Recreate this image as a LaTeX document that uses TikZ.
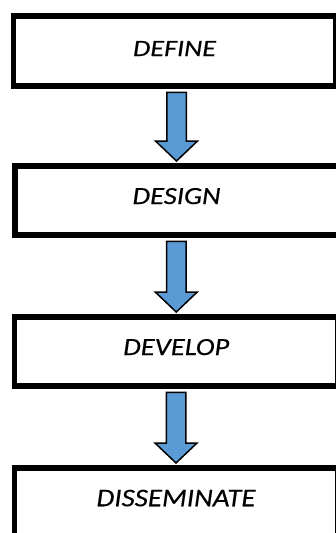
\documentclass[tikz,border=0pt]{standalone}
\usepackage{fontspec}
\setmainfont{Carlito}
\newfontfamily\stagefont[FakeBold=0.3]{Carlito}
\usetikzlibrary{calc}
\definecolor{arrowblue}{HTML}{5B9BD5}
\newcommand{\stagelabel}[3]{\resizebox{#1}{#2}{\stagefont\itshape #3}}
\tikzset{
  stagebox/.style={draw=black, line width=5.5pt, rectangle, inner sep=0pt,
    minimum width=323.5pt, minimum height=69pt, text depth=9pt},
  blockarrow/.style={draw=black, line width=1.5pt, fill=arrowblue, line join=miter,
    to path={let \p1=(\tikztostart), \p2=(\tikztotarget) in
      (\x2-9.75pt,\y1-3.5pt) -- (\x2+9.75pt,\y1-3.5pt) -- (\x2+9.75pt,\y2+22.25pt)
      -- (\x2+21pt,\y2+22.25pt) -- (\x2,\y2+2.25pt) -- (\x2-21pt,\y2+22.25pt)
      -- (\x2-9.75pt,\y2+22.25pt) -- cycle}}
}
\begin{document}
\begin{tikzpicture}[x=1pt,y=-1pt]
\useasboundingbox (0,0) rectangle (336,533);
\clip (0,0) rectangle (336,533);
\fill[white] (0,0) rectangle (336,533);
\node[stagebox, minimum width=322.5pt, minimum height=70pt, text depth=5pt] (define) at (174.5,51) {\stagelabel{83pt}{15pt}{DEFINE}};
\node[stagebox] (design) at (176.5,200.5) {\stagelabel{88pt}{16pt}{DESIGN}};
\node[stagebox] (develop) at (176.25,351.5) {\stagelabel{106pt}{16pt}{DEVELOP}};
\node[stagebox] (disseminate) at (176,502.5) {\stagelabel{159pt}{16.5pt}{DISSEMINATE}};
\draw[blockarrow] (define.south) to (design.north);
\draw[blockarrow] (design.south) to (develop.north);
\draw[blockarrow] (develop.south) to (disseminate.north);
\end{tikzpicture}
\end{document}
